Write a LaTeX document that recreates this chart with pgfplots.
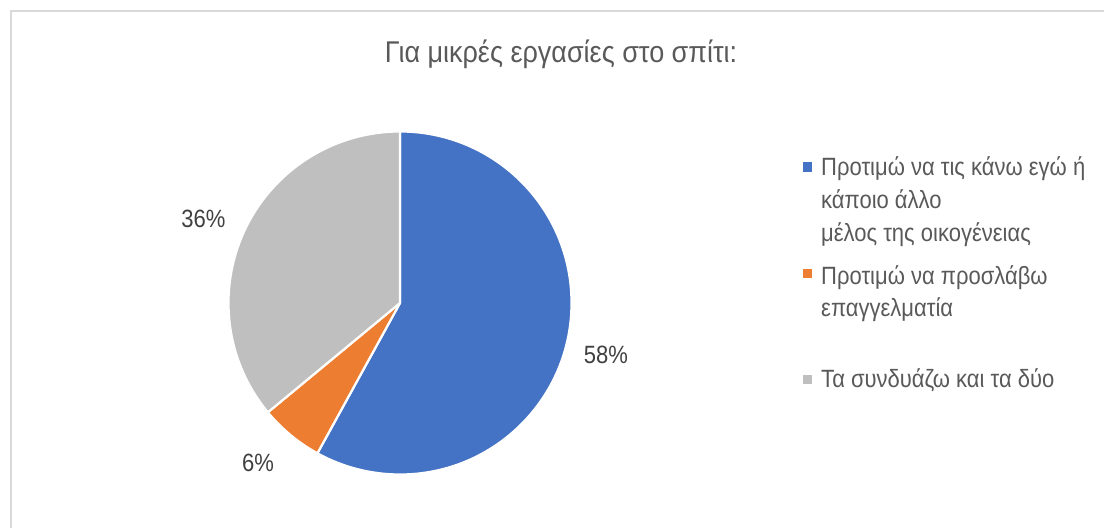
\documentclass[border=0pt]{standalone}
\usepackage{pgfplots}
\usepackage{pgfplotstable}
\pgfplotsset{compat=1.18}
\usepackage{fontspec}
\setmainfont{Liberation Sans}[FakeStretch=0.88]
\newfontfamily\titlefont{Liberation Sans}[FakeStretch=0.9]
\definecolor{pieblue}{HTML}{4472C4}
\definecolor{pieorange}{HTML}{ED7D31}
\definecolor{piegray}{HTML}{BFBFBF}
\definecolor{txtgray}{HTML}{595959}
\definecolor{lblgray}{HTML}{404040}
\definecolor{framegray}{HTML}{D9D9D9}

\pgfplotstableread{
idx value
0 58
1 6
2 36
}\piedata

\begin{document}
\begin{tikzpicture}
\pgfplotstablegetelem{0}{value}\of\piedata \let\vA\pgfplotsretval
\pgfplotstablegetelem{1}{value}\of\piedata \let\vB\pgfplotsretval
\pgfplotstablegetelem{2}{value}\of\piedata \let\vC\pgfplotsretval
\pgfmathsetmacro{\tot}{\vA+\vB+\vC}
\pgfmathsetmacro{\aA}{90-(\vA/\tot)*360}
\pgfmathsetmacro{\aB}{\aA-(\vB/\tot)*360}
\pgfmathsetmacro{\aC}{\aB-(\vC/\tot)*360}
\begin{axis}[
  scale only axis, width=1104bp, height=528bp,
  xmin=0, xmax=1104, ymin=0, ymax=528,
  hide axis, clip=false,
]
% frame
\draw[framegray, line width=2bp] (axis cs:11,0) -- (axis cs:11,517) -- (axis cs:1104,517);
% pie slices
\filldraw[fill=pieblue, draw=white, line width=2.2bp, line join=round]
  (axis cs:400,225) -- +(90:171.5bp) arc[start angle=90, end angle=\aA, radius=171.5bp] -- cycle;
\filldraw[fill=pieorange, draw=white, line width=2.2bp, line join=round]
  (axis cs:400,225) -- +(\aA:171.5bp) arc[start angle=\aA, end angle=\aB, radius=171.5bp] -- cycle;
\filldraw[fill=piegray, draw=white, line width=2.2bp, line join=round]
  (axis cs:400,225) -- +(\aB:171.5bp) arc[start angle=\aB, end angle=\aC, radius=171.5bp] -- cycle;
% title
\node[anchor=base, text=txtgray, font=\titlefont\fontsize{30bp}{36bp}\selectfont, inner sep=0pt]
  at (axis cs:561,465) {Για μικρές εργασίες στο σπίτι:};
% data labels
\node[anchor=base, text=lblgray, font=\fontsize{25bp}{30bp}\selectfont, inner sep=0pt]
  at (axis cs:606,164) {58\%};
\node[anchor=base, text=lblgray, font=\fontsize{25bp}{30bp}\selectfont, inner sep=0pt]
  at (axis cs:258,56) {6\%};
\node[anchor=base, text=lblgray, font=\fontsize{25bp}{30bp}\selectfont, inner sep=0pt]
  at (axis cs:203.5,300) {36\%};
% legend
\fill[pieblue] (axis cs:803,356) rectangle (axis cs:812,365.5);
\fill[pieorange] (axis cs:803,249.5) rectangle (axis cs:812,259);
\fill[piegray] (axis cs:803,143.5) rectangle (axis cs:812,153);
\begin{scope}[every node/.style={anchor=base west, text=txtgray, font=\fontsize{25bp}{30bp}\selectfont, inner sep=0pt}]
\node at (axis cs:821,352) {Προτιμώ να τις κάνω εγώ ή};
\node at (axis cs:821,319) {κάποιο άλλο};
\node at (axis cs:821,286) {μέλος της οικογένειας};
\node at (axis cs:821,243) {Προτιμώ να προσλάβω};
\node at (axis cs:821,211) {επαγγελματία};
\node at (axis cs:821,140) {Τα συνδυάζω και τα δύο};
\end{scope}
\end{axis}
\pgfresetboundingbox
\path[use as bounding box] (current axis.south west) rectangle (current axis.north east);
\end{tikzpicture}
\end{document}
